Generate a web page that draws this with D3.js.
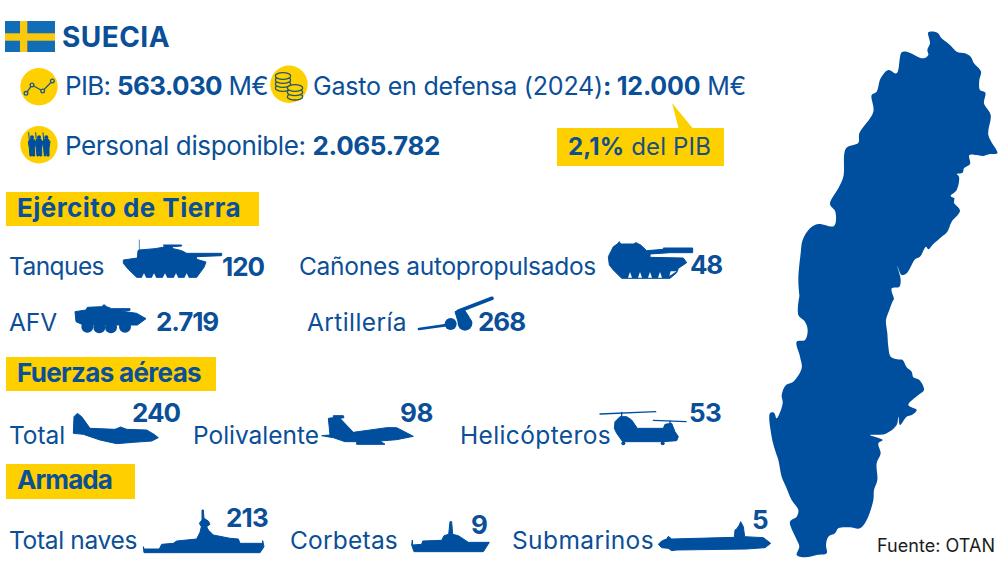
<!DOCTYPE html>
<html><head><meta charset="utf-8">
<script src="https://cdn.jsdelivr.net/npm/d3@7/dist/d3.min.js"></script>
<style>html,body{margin:0;padding:0;background:#fff;overflow:hidden}svg{display:block}text{font-family:Inter,"Noto Sans",sans-serif}</style>
</head><body>
<script>
// ---------- data ----------
const title = "SUECIA";
const source = "Fuente: OTAN";
const gdpValue = 563030, defenseValue = 12000, personnelValue = 2065782;
const defenseShare = "2,1%";
const sectionNames = ["Ejército de Tierra", "Fuerzas aéreas", "Armada"];
const itemLabels = ["Tanques","Cañones autopropulsados","AFV","Artillería","Total","Polivalente","Helicópteros","Total naves","Corbetas","Submarinos"];
const itemValues = [120,48,2719,268,240,98,53,213,9,5];

// ---------- style / layout ----------
const BLUE="#004f9f", TXT="#0a4f98", YEL="#ffd000";
const es = d3.formatLocale({decimal:",",thousands:".",grouping:[3],currency:["","€"]});
const fmt = es.format(",d");
// [label x0,x1,baseline, value x0,x1,baseline]
const itemLayout = [
 [9,104,275, 222,264,276],[299,596,275, 690,722,274],
 [9,57,331, 156,218,331],[307,407,331, 478,525,331],
 [9,65,444, 132,180,422],[193,319,444, 400,433,422],[460,611,444, 689,721,422],
 [9,137,549, 226,268,527],[290,398,549, 471,487,534],[512,654,549, 752,767,529]];
const sectionLayout = [[6,192,253,34,17,241,217],[6,357,210,34,17,201,382],[6,464,129,35,17,112,489]];

const svg = d3.select("body").append("svg").attr("width",1000).attr("height",567);

function fit(sel,x0,x1){ // pin a text run to its measured extent
  const n=sel.text().length, len=sel.node().getComputedTextLength();
  sel.attr("x",x0).style("letter-spacing",((x1-x0-len)/Math.max(n,1))+"px");
  return sel;
}
function txt(parts,x0,x1,y,size,fill){
  const t=svg.append("text").attr("y",y).attr("font-size",size).attr("fill",fill||TXT);
  parts.forEach(p=>{const s=t.append("tspan").attr("font-weight",p[1]?700:400).text(p[0]); if(p[2]) s.attr("fill",p[2]);});
  return fit(t,x0,x1);
}

// ---------- map outline (shape in its own local units) ----------
const mapN=[[505,37],[532,38],[545,55],[570,75],[590,95],[615,100],[632,110],[642,130],[663,155],[658,180],[660,210],[676,218],[672,250],[692,285],[685,345],[712,400],[690,402],[668,408],[650,405],[628,405],[630,432],[612,445],[608,458],[590,462],[597,470],[590,510],[572,528],[583,535],[582,548],[600,572],[575,605],[562,635],[545,650],[520,672],[505,688],[498,680],[480,710],[465,718],[450,745],[440,760],[425,765],[412,738],[422,780],[418,800],[395,805],[402,838]];
const mapS=[[400,30],[388,60],[378,90],[382,130],[385,170],[392,200],[412,208],[428,210],[440,232],[455,245],[460,262],[478,270],[492,300],[475,315],[445,345],[470,360],[455,375],[440,380],[420,405],[415,380],[410,405],[375,432],[330,435],[368,450],[355,460],[362,490],[350,520],[352,570],[342,600],[340,630],[320,690],[300,715],[270,712],[235,715],[225,730],[205,740],[198,765],[200,790],[170,795],[135,802],[110,795],[118,770],[108,745],[90,695],[110,680],[115,660],[95,630],[78,590],[65,560],[55,510],[45,480],[35,440],[30,370],[42,368],[50,385],[68,340],[65,315],[78,285],[100,275],[125,235],[120,200],[110,155],[135,150],[143,120],[135,95],[115,75],[120,10]];
const mapN2=[[120,840],[115,780],[122,700],[128,660],[150,625],[175,612],[222,618],[226,575],[210,552],[235,505],[250,470],[258,385],[295,368],[298,340],[340,275],[335,225],[350,215],[362,175],[385,150],[410,160],[425,97],[440,95],[490,115],[505,105],[502,90],[510,70]];
const mapPts=[...mapN.map(p=>[760+p[0]/3,20+p[1]/3]),...mapS.map(p=>[760+p[0]/3,290+p[1]/3]),...mapN2.map(p=>[760+p[0]/3,20+p[1]/3])];
svg.append("path").attr("d",d3.line().curve(d3.curveCatmullRomClosed.alpha(0.5))(mapPts)).attr("fill",BLUE);

// ---------- flag ----------
const flag=svg.append("g");
flag.append("rect").attr("x",5).attr("y",21).attr("width",50).attr("height",31).attr("fill","#116db5");
flag.append("rect").attr("x",20).attr("y",21).attr("width",7.3).attr("height",31).attr("fill","#fbc90b");
flag.append("rect").attr("x",5).attr("y",33.3).attr("width",50).attr("height",7.4).attr("fill","#fbc90b");

// ---------- section bands and callout ----------
sectionLayout.forEach(s=>{
  svg.append("rect").attr("x",s[0]).attr("y",s[1]).attr("width",s[2]).attr("height",s[3]).attr("fill",YEL);
});
svg.append("path").attr("d","M557,128H678.5L672,103L692.5,128H724V166H557Z").attr("fill",YEL);

// ---------- icon helpers ----------
function poly(g,pts,fill,smooth){
  const l=smooth?d3.line().curve(d3.curveCatmullRomClosed.alpha(0.5)):d3.line();
  g.append("path").attr("d",l(pts)+(smooth?"":"Z")).attr("fill",fill||BLUE)
   .attr("stroke",fill||BLUE).attr("stroke-width",fill==="#fff"?0:3).attr("stroke-linejoin","round");
}
function disc(g,x,y,r,fill){g.append("circle").attr("cx",x).attr("cy",y).attr("r",r).attr("fill",fill||BLUE);}
function seg(g,a,b,w){g.append("line").attr("x1",a[0]).attr("y1",a[1]).attr("x2",b[0]).attr("y2",b[1]).attr("stroke",BLUE).attr("stroke-width",w).attr("stroke-linecap","round");}
const icon=(ox,oy)=>svg.append("g").attr("transform",`translate(${ox},${oy}) scale(${1/3})`);

// round badges
[[39,86.7],[289,84.3],[39,144.7]].forEach(c=>disc(svg,c[0],c[1],18.7,YEL));
let g=icon(0,0);
const chartPts=[[78,280],[96,255],[128,273],[157,243]];
g.append("path").attr("d",d3.line()(chartPts)).attr("fill","none").attr("stroke","#1f5a8c").attr("stroke-width",4);
chartPts.forEach(p=>g.append("circle").attr("cx",p[0]).attr("cy",p[1]).attr("r",5.5).attr("fill",YEL).attr("stroke","#1f5a8c").attr("stroke-width",4));
[[849,264],[849,252],[849,240],[849,228],[885,290],[885,277],[885,264]].forEach(c=>
  g.append("ellipse").attr("cx",c[0]).attr("cy",c[1]).attr("rx",23).attr("ry",10).attr("fill",YEL).attr("stroke","#24586a").attr("stroke-width",4));
[96,117,139].forEach(x=>{
  poly(g,[[x-6,468],[x-8,445],[x-11,425],[x-5,417],[x+5,417],[x+11,425],[x+8,445],[x+8,468],[x+2,468],[x,450],[x-2,468]]);
  disc(g,x,412,6);
  seg(g,[x-10,398],[x-7,432],3);
});

// tank
g=icon(0,230);
poly(g,[[370,90],[412,84],[414,62],[417,60],[465,56],[488,52],[495,48],[490,45],[545,45],[545,48],[515,50],[520,56],[545,62],[560,70],[665,70],[665,77],[590,80],[590,88],[618,96],[612,112],[590,142],[410,142],[385,118],[370,100]]);
seg(g,[418,30],[418,62],2);
[432,462,495,528,560].forEach(x=>poly(g,[[x-7,144],[x,130],[x+7,144]],"#fff"));
// self-propelled gun
g=icon(400,230);
poly(g,[[625,80],[640,50],[652,42],[658,35],[662,42],[700,42],[708,38],[722,45],[740,62],[790,58],[790,54],[878,54],[878,68],[810,68],[750,72],[750,82],[850,84],[860,98],[835,115],[830,128],[810,145],[665,145],[640,120],[628,105]]);
[690,720,750,780].forEach(x=>poly(g,[[x-6,143],[x,126],[x+6,143]],"#fff"));
poly(g,[[808,138],[830,124],[812,124]],"#fff");
// AFV
g=icon(0,230);
poly(g,[[225,245],[258,240],[262,232],[305,230],[312,224],[320,230],[335,236],[390,236],[390,241],[362,243],[410,250],[438,266],[412,285],[250,285],[228,275]]);
[[262,290],[298,292],[333,292],[375,290]].forEach(c=>disc(g,c[0],c[1],18));
// artillery
g=icon(400,230);
seg(g,[175,244],[276,205],11); seg(g,[57,297],[150,284],8);
poly(g,[[165,245],[190,235],[208,262],[175,278]]);
disc(g,152,282,18); disc(g,195,280,22);
// transport plane
g=icon(0,395);
poly(g,[[220,115],[222,65],[232,55],[245,65],[270,100],[345,103],[362,96],[380,103],[440,105],[462,118],[475,128],[455,138],[400,142],[350,146],[300,135],[250,118]]);
// fighter
poly(g,[[965,122],[990,120],[985,70],[1000,68],[1000,62],[1030,62],[1032,68],[1020,70],[1060,112],[1160,98],[1190,98],[1240,124],[1190,134],[1140,138],[1155,148],[1070,148],[1070,140],[1035,140],[1000,128]]);
// frigate
poly(g,[[430,455],[432,462],[478,462],[485,448],[520,445],[530,438],[590,432],[600,412],[604,395],[598,385],[606,375],[606,345],[610,345],[612,370],[625,378],[630,388],[620,395],[625,405],[640,420],[690,430],[715,432],[720,445],[788,445],[788,437],[792,455],[780,473],[432,473]]);
// helicopter, corvette, submarine
g=icon(400,395);
seg(g,[600,57],[767,50],4); seg(g,[665,52],[665,66],4); seg(g,[760,76],[858,80],4); seg(g,[810,78],[810,90],4);
poly(g,[[645,80],[660,65],[680,65],[695,75],[712,100],[790,100],[795,88],[815,85],[825,110],[835,125],[830,137],[790,140],[668,140],[650,115],[643,100]]);
disc(g,670,145,6); disc(g,788,145,6);
poly(g,[[35,450],[37,435],[38,450],[65,448],[68,438],[125,436],[132,422],[146,418],[150,380],[155,380],[158,418],[175,422],[205,442],[268,442],[250,470],[42,470]]);
poly(g,[[775,448],[785,438],[800,432],[805,424],[815,432],[1003,427],[1005,405],[1010,402],[1018,390],[1022,380],[1030,395],[1034,425],[1090,428],[1112,445],[1095,458],[1040,462],[830,465],[815,467],[805,460],[785,458]]);

// ---------- text ----------
txt([[title,1]],62,170,47,28);
txt([["PIB: ",0],[fmt(gdpValue),1],[" M€",0]],65,268,95,26);
txt([["Gasto en defensa (2024)",0],[": "+fmt(defenseValue),1],[" M€",0]],313,746,95,25);
txt([["Personal disponible: ",0],[fmt(personnelValue),1]],65,440,155,26);
txt([[defenseShare,1,"#0f4f8c"],[" del PIB",0,"#1a4f80"]],568,711,155,24);
sectionNames.forEach((n,i)=>{const s=sectionLayout[i];txt([[n,1]],s[4],s[5],s[6],26);});
itemLabels.forEach((n,i)=>{
  const l=itemLayout[i];
  txt([[n,0]],l[0],l[1],l[2],24.5);
  txt([[fmt(itemValues[i]),1]],l[3],l[4],l[5],26);
});
txt([[source,0]],877,995,552,18,"#1c1c1c");
</script>
</body></html>
